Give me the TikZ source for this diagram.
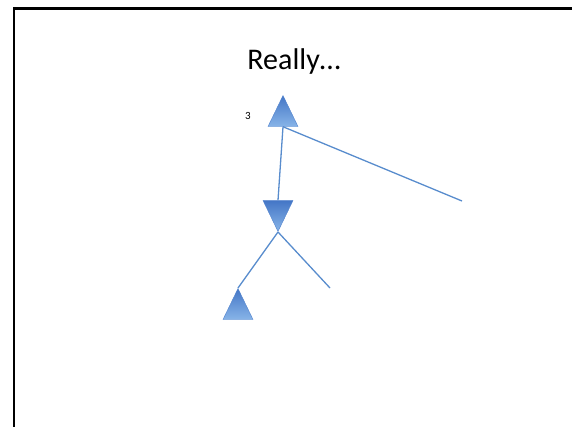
\documentclass[tikz,border=0pt]{standalone}
\usepackage{fontspec}
\setmainfont{Carlito}
\usetikzlibrary{shapes.geometric, positioning, calc}
\definecolor{treeblue}{RGB}{88, 140, 205}
\definecolor{darkfill}{RGB}{68, 118, 198}
\definecolor{lightfill}{RGB}{135, 180, 232}
\tikzset{
	tri/.style={isosceles triangle, isosceles triangle stretches, minimum width=30pt, minimum height=31pt, inner sep=0pt, draw=darkfill!80!lightfill, line width=0.4pt, top color=darkfill, bottom color=lightfill},
	uptri/.style={tri, shape border rotate=90, anchor=apex},
	downtri/.style={tri, shape border rotate=270, anchor=apex},
	branch/.style={draw=treeblue, line width=1.3pt},
	frame/.style={line width=2.6pt, black}
}

\begin{document}
\begin{tikzpicture}[x=1pt, y=-1pt]
		\useasboundingbox (0,0) rectangle (572,426);
		% slide frame
		\draw[frame] (14,430) -- (14,8.5) -- (580,8.5);
		% title
		\node (title) [anchor=base, font=\fontsize{30}{36}\selectfont] at (294,69) {Really…};
		
		% triangles
		\node (root) [uptri] at (283,95) {};
		\node (rootlabel) [font=\fontsize{11}{13}\selectfont] at (248,116) {3};
		\node (mid) [downtri] at (278,232) {};
		\node (leaf) [uptri] at (238,288) {};
		
		% open ends
		\coordinate (rightend) at (462,201);
		\coordinate (midend) at (330,288);
		
		\path[branch] (root.south) edge (mid.north);
		\path[branch] (root.south) edge (rightend);
		\path[branch] (mid.apex) edge (leaf.apex);
		\path[branch] (mid.apex) edge (midend);
	\end{tikzpicture}
\end{document}
